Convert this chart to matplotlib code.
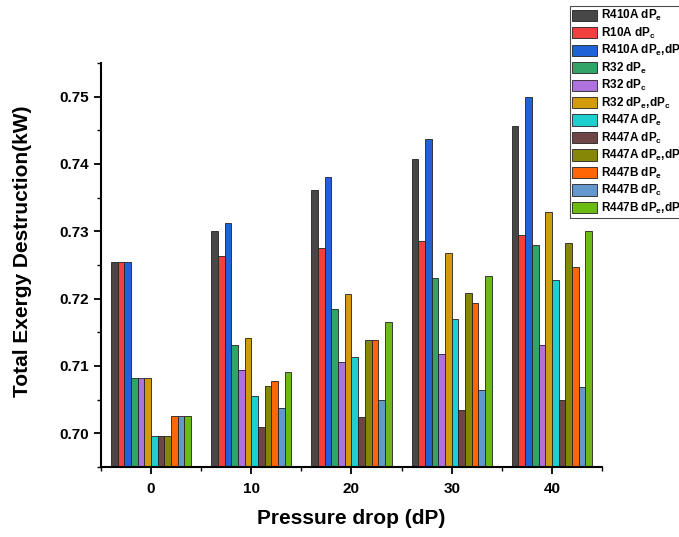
import matplotlib
matplotlib.use("Agg")
import matplotlib.pyplot as plt
import numpy as np
from matplotlib.ticker import MultipleLocator, FormatStrFormatter

plt.rcParams["font.family"] = ["Liberation Sans", "DejaVu Sans"]
plt.rcParams["font.weight"] = "bold"
plt.rcParams["mathtext.fontset"] = "custom"
plt.rcParams["mathtext.rm"] = "Liberation Sans:bold"
plt.rcParams["mathtext.it"] = "Liberation Sans:bold"
plt.rcParams["mathtext.bf"] = "Liberation Sans:bold"

pressure_drop = [0, 10, 20, 30, 40]

series_labels = [
    "R410A dP$_e$", "R10A dP$_c$", "R410A dP$_e$,dP$_c$",
    "R32 dP$_e$", "R32 dP$_c$", "R32 dP$_e$,dP$_c$",
    "R447A dP$_e$", "R447A dP$_c$", "R447A dP$_e$,dP$_c$",
    "R447B dP$_e$", "R447B dP$_c$", "R447B dP$_e$,dP$_c$",
]

r410a_dpe = [0.7254, 0.7300, 0.7361, 0.7407, 0.7457]
r410a_dpc = [0.7254, 0.7264, 0.7275, 0.7285, 0.7294]
r410a_both = [0.7254, 0.7312, 0.7380, 0.7437, 0.7500]
r32_dpe = [0.7082, 0.7131, 0.7184, 0.7231, 0.7279]
r32_dpc = [0.7082, 0.7094, 0.7106, 0.7118, 0.7131]
r32_both = [0.7082, 0.7142, 0.7207, 0.7268, 0.7328]
r447a_dpe = [0.6996, 0.7056, 0.7113, 0.7170, 0.7227]
r447a_dpc = [0.6996, 0.7010, 0.7024, 0.7034, 0.7050]
r447a_both = [0.6996, 0.7071, 0.7139, 0.7209, 0.7282]
r447b_dpe = [0.7026, 0.7077, 0.7138, 0.7193, 0.7247]
r447b_dpc = [0.7026, 0.7037, 0.7050, 0.7065, 0.7069]
r447b_both = [0.7026, 0.7091, 0.7165, 0.7233, 0.7300]

series_values = [
    r410a_dpe, r410a_dpc, r410a_both,
    r32_dpe, r32_dpc, r32_both,
    r447a_dpe, r447a_dpc, r447a_both,
    r447b_dpe, r447b_dpc, r447b_both,
]

colors = [
    "#474747", "#f2403f", "#1f62d8",
    "#33a468", "#ad72dc", "#d29b0c",
    "#1fcfcf", "#6e4646", "#878707",
    "#ff6605", "#6498cc", "#6cbb14",
]

fig = plt.figure(figsize=(6.79, 5.37), dpi=100)
ax = fig.add_axes([0.1487, 0.1304, 0.7379, 0.7523])

n = len(series_values)
group_width = 8.0
bar_w = group_width / n
x = np.array(pressure_drop, dtype=float)
bottom = 0.69
for i, (vals, col, lab) in enumerate(zip(series_values, colors, series_labels)):
    offs = -group_width / 2 + bar_w * (i + 0.5)
    ax.bar(x + offs, np.array(vals) - bottom, bar_w, bottom=bottom, color=col,
           edgecolor="#222222", linewidth=0.6, label=lab)

ax.set_xlim(-5, 45)
ax.set_ylim(0.695, 0.755)
ax.set_xticks(pressure_drop)
ax.xaxis.set_minor_locator(MultipleLocator(5))
ax.yaxis.set_major_locator(MultipleLocator(0.01))
ax.yaxis.set_minor_locator(MultipleLocator(0.005))
ax.yaxis.set_major_formatter(FormatStrFormatter("%.2f"))

for s in ["top", "right"]:
    ax.spines[s].set_visible(False)
for s in ["left", "bottom"]:
    ax.spines[s].set_linewidth(1.5)
ax.tick_params(which="major", direction="out", length=5, width=1.3, labelsize=11)
ax.tick_params(axis="x", which="major", pad=6)
ax.tick_params(which="minor", direction="out", length=3, width=1.0)
for t in ax.get_xticklabels() + ax.get_yticklabels():
    t.set_fontweight("bold")

ax.set_xlabel("Pressure drop (dP)", fontsize=15, fontweight="bold", labelpad=9)
ax.set_ylabel("Total Exergy Destruction(kW)", fontsize=15, fontweight="bold")
ax.yaxis.set_label_coords(-0.138, 0.535)

# legend sits against the right edge and is cut off there, as in the source
leg = fig.legend(loc="upper left", bbox_to_anchor=(570 / 679, 1 - 6 / 537),
                 prop={"weight": "bold", "size": 8.5}, frameon=True, fancybox=False,
                 edgecolor="#222222", handlelength=2.1, handleheight=1.1,
                 labelspacing=0.2, borderpad=0.2, handletextpad=0.35,
                 borderaxespad=0)
leg.get_frame().set_linewidth(0.8)

fig.savefig("out.png", dpi=100)
